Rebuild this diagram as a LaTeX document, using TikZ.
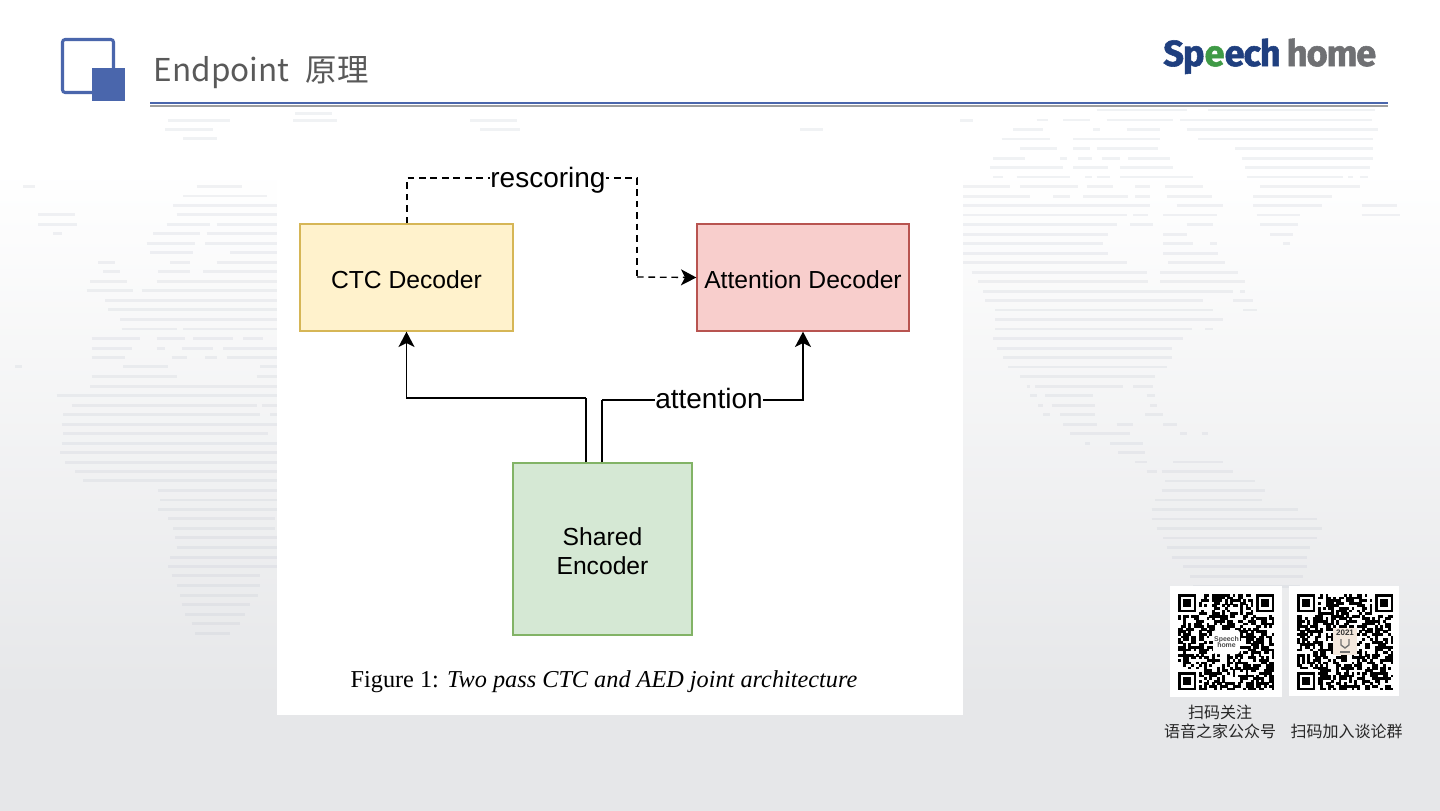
\documentclass[tikz,border=0pt]{standalone}
\usepackage{fontspec}
\setmainfont{Liberation Sans}
\newfontfamily\cjk{Noto Sans CJK SC}
\newfontfamily\capfont{Liberation Serif}
\newfontfamily\logofont[LetterSpace=-3,BoldFeatures={FakeBold=1.5}]{Fira Sans}
\usetikzlibrary{arrows.meta}
\definecolor{iconblue}{HTML}{4A66AC}
\definecolor{bgbot}{HTML}{E6E7E9}
\definecolor{stripe}{HTML}{BFC4D0}
\definecolor{ctcfill}{HTML}{FFF2CC}\definecolor{ctcdraw}{HTML}{D6B656}
\definecolor{attfill}{HTML}{F8CECC}\definecolor{attdraw}{HTML}{B85450}
\definecolor{encfill}{HTML}{D5E8D4}\definecolor{encdraw}{HTML}{82B366}
\definecolor{logoblue}{HTML}{1F3F7F}\definecolor{logogreen}{HTML}{3F9A46}\definecolor{logogray}{HTML}{6F7073}
\tikzset{
  mapline/.style={stripe,opacity=.22,line width=2.2pt},
  flowbox/.style={draw,line width=1pt,align=center,inner sep=0pt,font=\fontsize{18.5}{21.75}\selectfont},
  conn/.style={draw=black,line width=1.3pt},
  dashconn/.style={draw=black,line width=1pt,dash pattern=on 5pt off 3.6pt},
  tip/.style={-{Stealth[length=11.5pt,width=12pt,inset=3pt]}},
  edgelabel/.style={fill=white,inner sep=0.5pt,font=\fontsize{21}{24}\selectfont},
  cnlabel/.style={font=\cjk\fontsize{12}{14}\selectfont,text=black!85,inner sep=0pt},
}
\newcommand\lowstrut{\rule{0pt}{16.5pt}}
\newcommand\mapl[2]{\foreach \a/\b in {#2}{\draw[mapline] ({\a/3},{100+#1*0.4464}) -- ({\b/3},{100+#1*0.4464});}}
\newcommand\mapr[2]{\foreach \a/\b in {#2}{\draw[mapline] ({960+\a/3},{100+#1/3}) -- ({960+\b/3},{100+#1/3});}}
\newcommand\qrfinder[3]{% x,y,module
  \fill[white] (#1-#3,#2-#3) rectangle (#1+8*#3,#2+8*#3);
  \fill[black] (#1,#2) rectangle (#1+7*#3,#2+7*#3);
  \fill[white] (#1+#3,#2+#3) rectangle (#1+6*#3,#2+6*#3);
  \fill[black] (#1+2*#3,#2+2*#3) rectangle (#1+5*#3,#2+5*#3);}
\newcommand\qrcode[4]{% x,y,module,seed
  \pgfmathsetseed{#4}
  \foreach \i in {0,...,36}{\foreach \j in {0,...,36}{%
    \pgfmathrandominteger{\r}{0}{99}%
    \ifnum\r<52 \fill[black] ({#1+\i*#3},{#2+\j*#3}) rectangle ++({#3+.15},{#3+.15});\fi}}
  \qrfinder{#1}{#2}{#3}
  \qrfinder{#1+30*#3}{#2}{#3}
  \qrfinder{#1}{#2+30*#3}{#3}}
\begin{document}
\begin{tikzpicture}[x=0.75pt,y=-0.75pt]
\useasboundingbox (0,0) rectangle (1440,811);
% background
\fill[white] (0,0) rectangle (1440,170);
\shade[top color=white,bottom color=bgbot,shading=axis] (0,169) rectangle (1440,700);
\fill[bgbot] (0,699) rectangle (1440,811);
% world map, left part
\mapl{45}{505/690}\mapl{66}{495/640}\mapl{87}{550/650}
\mapl{193}{70/105,590/725}\mapl{215}{550/800}\mapl{236}{520/830}
\mapl{257}{115/225,530/830}\mapl{278}{115/230,500/630,650/830}
\mapl{300}{160/185,460/600,620/830}\mapl{321}{440/585,615/830}\mapl{342}{450/580,690/830}
\mapl{364}{295/345,510/570,650/830}\mapl{385}{310/360,475/570,610/830}
\mapl{406}{270/380,470/830}\mapl{427}{260/400,425/830}\mapl{449}{315/830}\mapl{470}{325/830}
\mapl{491}{360/830}\mapl{513}{365/530,550/830}\mapl{534}{275/420,470/555,580/700,730/790}
\mapl{556}{275/395,470/495,545/640,670/830}\mapl{577}{275/375,515/560,615/650,680/830}
\mapl{598}{45/65,370/505,780/830}\mapl{620}{275/530,770/830}\mapl{641}{270/830}
\mapl{662}{170/830}\mapl{684}{215/770,785/830}\mapl{705}{190/780,810/830}\mapl{727}{185/830}
\mapl{748}{190/805}\mapl{770}{185/830}\mapl{790}{180/830}\mapl{811}{195/830}\mapl{832}{225/830}
\mapl{853}{250/830}\mapl{875}{475/830}\mapl{896}{480/830}\mapl{917}{475/830}\mapl{938}{505/825}
\mapl{959}{520/825}\mapl{981}{525/830}\mapl{1002}{530/830}\mapl{1024}{510/830}\mapl{1045}{505/830}
\mapl{1066}{515/780}\mapl{1088}{530/780}\mapl{1109}{540/775}\mapl{1130}{545/750}\mapl{1152}{555/735}
\mapl{1173}{575/720}\mapl{1195}{585/690}
% world map, above the figure
\mapl{45}{880/1010,1410/1550,2880/2920}\mapl{66}{1440/1560,2400/2470}\mapl{30}{885/995}
% world map, right part
\mapr{30}{410/680,745/1245}\mapr{60}{230/265,310/390,440/640,660/1235}
\mapr{88}{160/250,400/420,500/600,680/1255}\mapr{117}{125/270,340/600,715/1240}
\mapr{145}{180/290,340/390,410/595,825/1240}\mapr{175}{100/195,300/320,355/395,425/480,505/630,845/1240}
\mapr{203}{90/310,340/445,480/640,855/1230}\mapr{231}{100/130,170/330,375/395,410/450,480/700,860/1150,1165/1180,1200/1225}
\mapr{260}{10/150,180/355,380/460,525/570,615/730,900/1200}\mapr{289}{10/210,280/330,370/505,525/570,620/755,880/1115}
\mapr{317}{10/570,650/790,880/1085,1205/1310}\mapr{345}{10/500,520/565,610/770,890/1020,1205/1320}
\mapr{374}{10/470,510/580,680/760,900/1015}\mapr{403}{10/445,610/680,930/1000}
\mapr{431}{10/430,610/700,750/770,970/990}\mapr{460}{10/445,610/775}\mapr{488}{10/500,625/795}
\mapr{517}{35/560,600/835}\mapr{545}{55/565,600/855}\mapr{574}{70/820,840/855}\mapr{602}{75/730,820/880}
\mapr{630}{105/760,850/890}\mapr{659}{105/790}\mapr{687}{105/695,735/760}\mapr{716}{100/670}
\mapr{745}{110/635}\mapr{773}{130/635}\mapr{801}{145/620}\mapr{830}{180/585}\mapr{859}{200/210,225/490,520/580}
\mapr{887}{210/230,255/400,560/585}\mapr{916}{235/250,275/405,570/590}\mapr{944}{250/270,300/405,555/610}
\mapr{973}{310/410,470/520,610/650}\mapr{1001}{330/510,660/680,725/745}\mapr{1030}{375/390,450/550}
\mapr{1058}{475/555}\mapr{1086}{525/560,640/790}\mapr{1115}{560/590,605/820}\mapr{1143}{615/885}
\mapr{1171}{605/915}\mapr{1200}{585/905}\mapr{1228}{575/1015}\mapr{1257}{575/1070}\mapr{1285}{590/1085}
\mapr{1314}{610/1070}\mapr{1343}{620/1050}\mapr{1372}{635/1040}\mapr{1400}{670/1040}\mapr{1429}{690/1030}
\mapr{1460}{700/1020}
% header
\draw[iconblue,line width=2.3pt,rounded corners=2pt] (62.5,39.5) rectangle (113.5,92.5);
\fill[iconblue] (92,68) rectangle (124.5,101);
\node[anchor=base west,inner sep=0pt,text=black!65,font=\cjk\fontsize{23.6}{28}\selectfont] (title) at (153.5,81) {Endpoint\hspace{0.53em}原理};
\fill[iconblue] (150,101.5) rectangle (1388,104);
\fill[black!38] (150,105) rectangle (1388,107.2);
\node[anchor=base west,inner sep=0pt,font=\logofont\bfseries\fontsize{27.2}{30}\selectfont] (logo) at (1163,66)
  {\textcolor{logoblue}{Sp}\textcolor{logogreen}{e}\textcolor{logoblue}{ech}\hspace{4.5pt}\textcolor{logogray}{home}};
% figure
\fill[white] (277,150) rectangle (963,715);
\node[flowbox,fill=ctcfill,draw=ctcdraw,minimum width=159.75pt,minimum height=80.25pt] (ctc) at (406.5,277.5) {\lowstrut CTC Decoder};
\node[flowbox,fill=attfill,draw=attdraw,minimum width=159pt,minimum height=80.25pt] (att) at (803,277.5) {\lowstrut Attention Decoder};
\node[flowbox,fill=encfill,draw=encdraw,minimum width=134.25pt,minimum height=129pt,text=black] (enc) at (602.5,549) {\lowstrut Shared\\Encoder};
\coordinate (c1) at (586,398);
\coordinate (c2) at (602,400);
\coordinate (c3) at (407,178);
\coordinate (c4) at (637,178);
\coordinate (c5) at (637,277);
\draw[conn] (c1 |- enc.north) -- (c1);
\draw[conn,tip] (c1) -| (ctc.south);
\draw[conn] (c2 |- enc.north) -- (c2);
\draw[conn,tip] (c2) -| (att.south);
\node[edgelabel] (lblatt) at (709,398) {attention};
\draw[dashconn] (c3 |- ctc.north) -- (c3) -- (c4) -- (c5);
\draw[dashconn,tip] (c5) -- (att.west);
\node[edgelabel] (lblres) at (548,180) {rescoring};
\node[anchor=base,inner sep=0pt,font=\capfont\fontsize{18.2}{20}\selectfont] (cap) at (604,687) {Figure 1: \textit{Two pass CTC and AED joint architecture}};
% QR codes
\fill[white] (1170,586) rectangle (1282,697);
\fill[white] (1289,586) rectangle (1399,696);
\qrcode{1178}{594}{2.6}{42}
\qrcode{1297}{594}{2.6}{77}
\node[fill=white,rounded corners=2pt,minimum width=20pt,minimum height=18pt,inner sep=0pt,align=center,font=\fontsize{5.2}{5}\selectfont\bfseries,text=black!70] (qrlogo) at (1226.5,642) {Speech\\home};
\fill[white!82!brown] (1333,628) rectangle (1357,655);
\node[anchor=center,inner sep=0pt,font=\fontsize{6}{6}\selectfont\bfseries,text=black!80] (qryear) at (1345,633) {2021};
\draw[black!55,line width=1pt] (1341,639) -- (1341,645) -- (1345,648) -- (1349,645) -- (1349,639);
\fill[black!55] (1340,651) rectangle (1350,653);
\node[cnlabel] (t1) at (1220,712) {扫码关注};
\node[cnlabel] (t2) at (1220,731) {语音之家公众号};
\node[cnlabel] (t3) at (1346.5,731) {扫码加入谈论群};
\end{tikzpicture}
\end{document}
